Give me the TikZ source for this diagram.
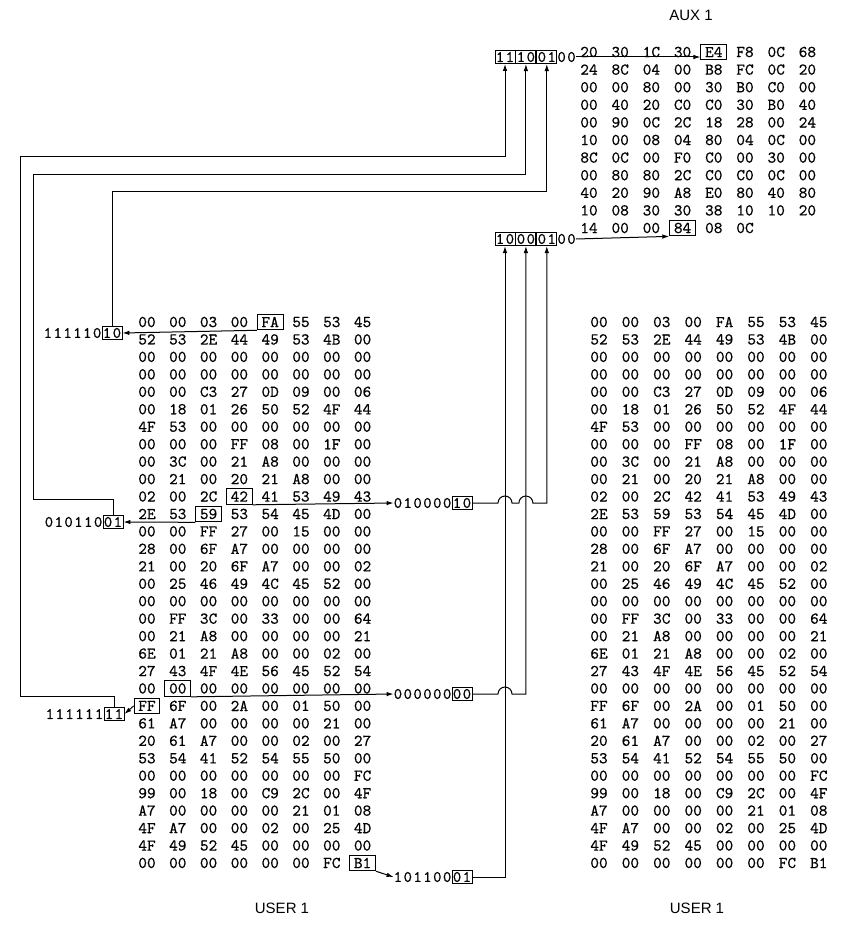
\documentclass[tikz,border=0pt]{standalone}
\usepackage{fontspec}
\setsansfont{Liberation Sans}
\newfontfamily\hexfam[FakeBold=0.6]{lmmono10-regular.otf}
\newfontfamily\bitfam[LetterSpace=9, FakeBold=0.6]{lmmono10-regular.otf}
\usetikzlibrary{
  arrows.meta,
  positioning,
  fit
}
\newcommand{\hexfont}{\hexfam\fontsize{16.5}{16.5}\selectfont}
\newcommand{\bitfont}{\bitfam\fontsize{16}{16}\selectfont}
% directory sector, same in both USER 1 dumps
\newcommand{\userrows}{%
  {00,00,03,00,FA,55,53,45},
  {52,53,2E,44,49,53,4B,00},
  {00,00,00,00,00,00,00,00},
  {00,00,00,00,00,00,00,00},
  {00,00,C3,27,0D,09,00,06},
  {00,18,01,26,50,52,4F,44},
  {4F,53,00,00,00,00,00,00},
  {00,00,00,FF,08,00,1F,00},
  {00,3C,00,21,A8,00,00,00},
  {00,21,00,20,21,A8,00,00},
  {02,00,2C,42,41,53,49,43},
  {2E,53,59,53,54,45,4D,00},
  {00,00,FF,27,00,15,00,00},
  {28,00,6F,A7,00,00,00,00},
  {21,00,20,6F,A7,00,00,02},
  {00,25,46,49,4C,45,52,00},
  {00,00,00,00,00,00,00,00},
  {00,FF,3C,00,33,00,00,64},
  {00,21,A8,00,00,00,00,21},
  {6E,01,21,A8,00,00,02,00},
  {27,43,4F,4E,56,45,52,54},
  {00,00,00,00,00,00,00,00},
  {FF,6F,00,2A,00,01,50,00},
  {61,A7,00,00,00,00,21,00},
  {20,61,A7,00,00,02,00,27},
  {53,54,41,52,54,55,50,00},
  {00,00,00,00,00,00,00,FC},
  {99,00,18,00,C9,2C,00,4F},
  {A7,00,00,00,00,21,01,08},
  {4F,A7,00,00,02,00,25,4D},
  {4F,49,52,45,00,00,00,00},
  {00,00,00,00,00,00,FC,B1}}
\newcommand{\auxrows}{%
  {20,30,1C,30,E4,F8,0C,68},
  {24,8C,04,00,B8,FC,0C,20},
  {00,00,80,00,30,B0,C0,00},
  {00,40,20,C0,C0,30,B0,40},
  {00,90,0C,2C,18,28,00,24},
  {10,00,08,04,80,04,0C,00},
  {8C,0C,00,F0,C0,00,30,00},
  {00,80,80,2C,C0,C0,0C,00},
  {40,20,90,A8,E0,80,40,80},
  {10,08,30,30,38,10,10,20},
  {14,00,00,84,08,0C}}
\tikzset{
  >=Latex,
  hexbyte/.style={font=\hexfont, inner sep=0pt},
  hexbox/.style={draw, line width=0.9pt, inner xsep=4pt, inner ysep=2.5pt},
  bits/.style={font=\bitfont, inner xsep=0pt, inner ysep=1.5pt},
  bitbox/.style={bits, draw, line width=0.9pt, minimum width=20pt, minimum height=13pt},
  blocklabel/.style={font=\sffamily\fontsize{15}{15}\selectfont},
  arr/.style={-{Latex[length=7pt,width=4.5pt]}, line width=1pt},
}

\begin{document}
\begin{tikzpicture}[x=1pt, y=-1pt]

  \fill[white] (0,0) rectangle (844,925);

  % =====================================================================
  % hex dumps
  % =====================================================================
  \foreach \bx/\dx/\tag in {147/30.8/u, 599/31.4/v} {
    \foreach \row [count=\r] in \userrows {
      \foreach \b [count=\c] in \row {
        \node[hexbyte] (\tag-\r-\c) at ({\bx+(\c-1)*\dx}, {322+(\r-1)*17.45}) {\b};
      }
    }
  }
  \foreach \row [count=\r] in \auxrows {
    \foreach \b [count=\c] in \row {
      \node[hexbyte] (a-\r-\c) at ({589+(\c-1)*31.2}, {52+(\r-1)*17.6}) {\b};
    }
  }

  \node[blocklabel] (auxlabel) at (691, 15) {AUX 1};
  \node[blocklabel] (userleft) at (282, 908) {USER 1};
  \node[blocklabel] (userright) at (697, 908) {USER 1};

  % boxed bytes
  \node[hexbox, fit=(u-1-5)] (fa) {};
  \node[hexbox, fit=(u-11-4)] (b42) {};
  \node[hexbox, fit=(u-12-3)] (b59) {};
  \node[hexbox, fit=(u-22-2)] (z00) {};
  \node[hexbox, fit=(u-23-1)] (ff) {};
  \node[hexbox, fit=(u-32-8)] (b1) {};
  \node[hexbox, fit=(a-1-5)] (e4) {};
  \node[hexbox, fit=(a-11-4)] (b84) {};

  % =====================================================================
  % bit patterns
  % =====================================================================
  \node[bitbox] (hi1) at (505, 57) {11};
  \node[bitbox, right=0pt of hi1] (hi2) {10};
  \node[bitbox, right=0pt of hi2] (hi3) {01};
  \node[bits, right=0pt of hi3] (hi4) {00};

  \node[bitbox] (lo1) at (505, 239) {10};
  \node[bitbox, right=0pt of lo1] (lo2) {00};
  \node[bitbox, right=0pt of lo2] (lo3) {01};
  \node[bits, right=0pt of lo3] (lo4) {00};

  \node[bitbox] (fabits) at (112, 333) {10};
  \node[bits, left=0pt of fabits] (fapre) {111110};
  \node[bitbox] (sybits) at (113, 522) {01};
  \node[bits, left=0pt of sybits] (sypre) {010110};
  \node[bitbox] (ffbits) at (114, 714) {11};
  \node[bits, left=0pt of ffbits] (ffpre) {111111};

  \node[bitbox] (r10) at (462, 503) {10};
  \node[bits, left=0pt of r10] (r10pre) {010000};
  \node[bitbox] (r00) at (462, 694) {00};
  \node[bits, left=0pt of r00] (r00pre) {000000};
  \node[bitbox] (r01) at (462, 877) {01};
  \node[bits, left=0pt of r01] (r01pre) {101100};

  % =====================================================================
  % connectors
  % =====================================================================
  \draw[arr] (fa.south west) -- (fabits.east);
  \draw[arr] (b59.south west) -- (sybits.east);
  \draw[arr] (ff.west) -- (ffbits.east);
  \draw[arr] (b42.south east) -- (r10pre.west);
  \draw[arr] (z00.south east) -- (r00pre.west);
  \draw[arr] (b1.south east) -- (r01pre.west);
  \draw[arr] (hi4.east) -- (hi4.east -| e4.west);
  \draw[arr] (lo4.east) -- (b84.south west);

  % wires up to AUX 1
  \coordinate (ka) at (20, 157);
  \coordinate (kb) at (33, 175);
  \coordinate (kc) at (110, 192);
  \draw[arr] (ffbits.north) |- (20, 696) -- (ka) -| (hi1.south);
  \draw[arr] (sybits.north) |- (33, 499) -- (kb) -| (hi2.south);
  \draw[arr] (fabits.north) -- (fabits.north |- kc) -| (hi3.south);

  % wires from the right, hopping over the verticals
  \draw[arr] (r10.east)
    -- ([xshift=-7pt]lo1.south |- r10.east) arc[start angle=180, end angle=0, radius=7pt]
    -- ([xshift=-7pt]lo2.south |- r10.east) arc[start angle=180, end angle=0, radius=7pt]
    -| (lo3.south);
  \draw[arr] (r00.east)
    -- ([xshift=-7pt]lo1.south |- r00.east) arc[start angle=180, end angle=0, radius=7pt]
    -| (lo2.south);
  \draw[arr] (r01.east) -| (lo1.south);

\end{tikzpicture}
\end{document}
